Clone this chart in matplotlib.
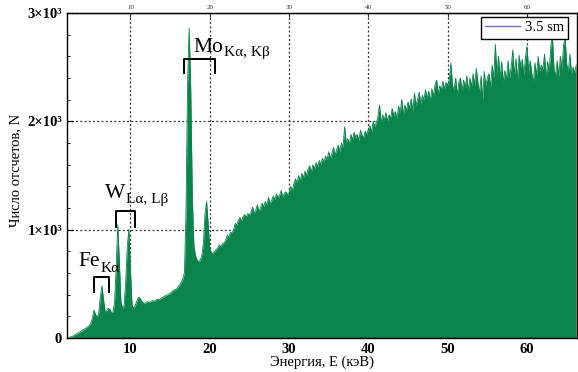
import numpy as np
import matplotlib
matplotlib.use('Agg')
import matplotlib.pyplot as plt
from matplotlib.lines import Line2D
from matplotlib.ticker import MultipleLocator

plt.rcParams['font.family'] = ['Liberation Serif', 'DejaVu Serif']

# spectrum, counts read every 0.2 keV starting at 2.0 keV
e_start = 2.0
e_step = 0.2
counts = [
    0, 4, 8, 14, 20, 28, 36, 45, 54, 62,
    72, 82, 92, 102, 115, 135, 185, 258, 215, 195,
    230, 380, 480, 360, 240, 250, 275, 265, 235, 240,
    330, 650, 1045, 700, 330, 275, 300, 520, 850, 1005,
    620, 300, 275, 300, 340, 375, 370, 340, 325, 320,
    330, 335, 328, 340, 345, 338, 350, 358, 352, 365,
    372, 380, 390, 395, 405, 410, 425, 440, 445, 455,
    470, 490, 515, 545, 600, 1150, 2350, 2860, 2300, 1300,
    850, 760, 720, 705, 720, 760, 880, 1150, 1260, 1050,
    830, 790, 780, 800, 815, 830, 860, 845, 870, 880,
    900, 950, 930, 975, 970, 995, 1060, 1040, 1090, 1110,
    1080, 1120, 1140, 1115, 1150, 1135, 1160, 1210, 1150, 1180,
    1230, 1170, 1200, 1245, 1210, 1260, 1225, 1300, 1240, 1270,
    1310, 1280, 1330, 1295, 1320, 1360, 1300, 1335, 1350, 1320,
    1340, 1400, 1360, 1420, 1470, 1430, 1500, 1450, 1520, 1480,
    1540, 1500, 1560, 1590, 1530, 1600, 1560, 1620, 1580, 1640,
    1600, 1660, 1620, 1680, 1650, 1720, 1660, 1700, 1760, 1690,
    1740, 1780, 1720, 1800, 1760, 1950, 1800, 1840, 1790, 1880,
    1830, 1900, 1850, 1880, 1820, 1920, 1870, 1850, 1910, 1880,
    1930, 1960, 1900, 2000, 1950, 1990, 2040, 2150, 1990, 2060,
    2010, 2080, 2000, 2060, 2030, 2120, 2050, 2090, 2020, 2140,
    2080, 2200, 2060, 2150, 2100, 2180, 2120, 2210, 2090, 2260,
    2150, 2200, 2270, 2160, 2240, 2200, 2290, 2210, 2280, 2190,
    2300, 2230, 2340, 2380, 2250, 2330, 2290, 2370, 2300, 2360,
    2330, 2390, 2540, 2330, 2290, 2400, 2240, 2360, 2400, 2280,
    2380, 2310, 2420, 2280, 2400, 2320, 2440, 2330, 2490, 2360,
    2260, 2420, 2200, 2460, 2330, 2400, 2440, 2310, 2520, 2400,
    2710, 2430, 2600, 2400, 2550, 2360, 2470, 2380, 2560, 2400,
    2500, 2660, 2420, 2580, 2380, 2610, 2500, 2570, 2430, 2590,
    2690, 2460, 2560, 2440, 2360, 2540, 2420, 2600, 2460, 2520,
    2480, 2620, 2400, 2550, 2460, 2700, 2780, 2480, 2420, 2560,
    2410, 2600, 2480, 2700, 2770, 2530, 2450, 2620, 2440, 2500,
    2450, 2520,
]
energy = np.round(e_start + e_step * np.arange(len(counts)), 2)

x_ticks = [10, 20, 30, 40, 50, 60]
y_ticks = [0, 1000, 2000, 3000]
y_ticklabels = ['0', '1×10³', '2×10³', '3×10³']

# peak labels: main text, subscript, bracket (left E, right E, top, leg bottom)
peak_main = ['Fe', 'W', 'Mo']
peak_sub = ['Kα', 'Lα, Lβ', 'Kα, Kβ']
main_pos = [(3.4, 665), (6.8, 1292), (17.9, 2643)]
sub_pos = [(6.2, 612), (9.45, 1245), (21.8, 2603)]
brackets = [(5.35, 7.35, 566, 427), (8.2, 10.6, 1172, 1027), (16.7, 20.6, 2572, 2443)]

green = '#0a844b'

fig = plt.figure(figsize=(5.78, 3.72), dpi=100)
ax = fig.add_axes([67 / 578, 34 / 372, 510 / 578, 325 / 372])

ax.fill_between(energy, counts, 0, color=green, lw=0, zorder=2)
ax.plot(energy, counts, color=green, lw=0.6, zorder=2)

ax.set_xlim(2.0, 66.3)
ax.set_ylim(0, 3000)

ax.set_xticks(x_ticks)
ax.xaxis.set_minor_locator(MultipleLocator(1))
ax.set_yticks(y_ticks)
ax.set_yticklabels(y_ticklabels)
ax.yaxis.set_minor_locator(MultipleLocator(200))
ax.tick_params(which='both', direction='in', top=False, right=False)
ax.tick_params(which='major', length=4, labelsize=10.5)
ax.tick_params(which='minor', length=2.5)
for lab in ax.get_xticklabels() + ax.get_yticklabels():
    lab.set_fontweight('bold')

top = ax.secondary_xaxis('top')
top.set_xticks(x_ticks)
top.tick_params(direction='in', length=3, labelsize=5, pad=2, colors='#333333')

ax.grid(True, which='major', linestyle=(0, (1.6, 1.8)), color='#333333', lw=0.9, zorder=1)
ax.set_axisbelow(True)

for s in ax.spines.values():
    s.set_linewidth(1.0)
    s.set_zorder(3)

ax.set_xlabel('Энергия, Е (кэВ)', fontsize=10.5)
ax.xaxis.set_label_coords(0.5, -0.055)
ax.set_ylabel('Число отсчетов, N', fontsize=10.5)
ax.yaxis.set_label_coords(-0.088, 0.515)

for name, sub, (mx, my), (sx, sy), (b0, b1, bt, bb) in zip(peak_main, peak_sub, main_pos, sub_pos, brackets):
    ax.text(mx, my, name, fontsize=15.5, ha='left', va='baseline', zorder=4)
    ax.text(sx, sy, sub, fontsize=11, ha='left', va='baseline', zorder=4)
    ax.plot([b0, b0, b1, b1], [bb, bt, bt, bb], color='black', lw=1.4, zorder=4)

handle = Line2D([0], [0], color='#7a6cc0', lw=1.0)
leg = ax.legend([handle], ['3.5 sm'], loc='upper right', bbox_to_anchor=(0.983, 0.988),
                borderaxespad=0, fontsize=10.5, handlelength=2.4, handletextpad=0.3,
                borderpad=0.3, fancybox=False, framealpha=1, edgecolor='black')
leg.get_frame().set_linewidth(1.0)
leg.set_zorder(5)

fig.savefig('out.png', dpi=100)
